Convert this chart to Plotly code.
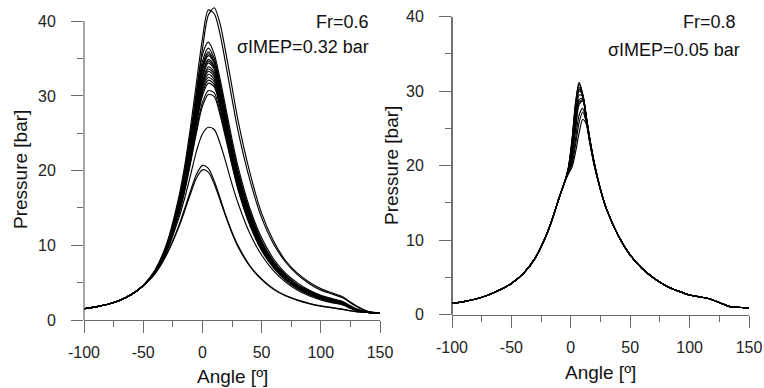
import plotly.graph_objects as go

# ---------------- data: left panel (Fr=0.6) ----------------
ANG_L = [-100, -90, -80, -70, -60, -50, -40, -30, -20, -15, -10, -5, 0, 5, 10, 15, 20, 25, 30,
         40, 50, 60, 70, 80, 90, 100, 110, 118, 125, 130, 140, 150]

P_L_upper_a = [1.5, 1.75, 2.1, 2.6, 3.4, 4.6, 6.6, 10.0, 15.8, 19.8, 24.8, 30.5, 36.2, 40.8, 41.8, 39.6, 35.6, 31.2, 26.8,
               19.8, 14.3, 10.6, 8.0, 6.3, 5.1, 4.2, 3.6, 3.15, 2.4, 1.9, 1.15, 0.95]
P_L_upper_b = [1.5, 1.75, 2.1, 2.6, 3.4, 4.6, 6.7, 10.3, 16.4, 20.6, 25.9, 31.8, 37.6, 41.5, 41.0, 38.2, 34.0, 29.6, 25.4,
               18.8, 13.7, 10.2, 7.8, 6.1, 4.9, 4.0, 3.45, 3.0, 2.3, 1.8, 1.1, 0.95]
P_L_373 = [1.5, 1.75, 2.1, 2.6, 3.4, 4.6, 6.6, 10.1, 15.9, 20.0, 25.0, 30.5, 35.5, 37.2, 35.6, 32.2, 28.2, 24.2, 20.6,
           15.0, 11.0, 8.2, 6.3, 5.0, 4.0, 3.3, 2.85, 2.5, 1.9, 1.5, 1.05, 0.95]
P_L_c1 = [1.5, 1.75, 2.1, 2.6, 3.4, 4.6, 6.6, 10.0, 15.6, 19.6, 24.5, 29.8, 34.6, 36.4, 35.0, 31.6, 27.6, 23.6, 20.0,
          14.6, 10.6, 7.9, 6.1, 4.8, 3.9, 3.2, 2.75, 2.45, 1.85, 1.45, 1.05, 0.95]
P_L_c2 = [1.5, 1.75, 2.1, 2.6, 3.4, 4.6, 6.6, 10.0, 15.5, 19.4, 24.2, 29.4, 34.1, 35.9, 34.6, 31.2, 27.2, 23.2, 19.7,
          14.3, 10.4, 7.8, 6.0, 4.7, 3.8, 3.15, 2.7, 2.4, 1.8, 1.4, 1.05, 0.95]
P_L_c12 = [1.5, 1.75, 2.1, 2.6, 3.4, 4.6, 6.55, 9.95, 15.4, 19.25, 24.0, 29.1, 33.8, 35.65, 34.5, 31.1, 27.1, 23.1, 19.6,
           14.2, 10.35, 7.75, 5.95, 4.65, 3.78, 3.12, 2.68, 2.38, 1.8, 1.4, 1.05, 0.95]
P_L_c3 = [1.5, 1.75, 2.1, 2.6, 3.4, 4.6, 6.5, 9.9, 15.3, 19.1, 23.8, 28.8, 33.4, 35.4, 34.4, 31.0, 27.0, 23.0, 19.5,
          14.1, 10.3, 7.7, 5.9, 4.6, 3.75, 3.1, 2.65, 2.35, 1.8, 1.4, 1.05, 0.95]
P_L_c4 = [1.5, 1.75, 2.1, 2.6, 3.4, 4.6, 6.5, 9.8, 15.2, 18.9, 23.5, 28.4, 32.9, 34.9, 34.0, 30.7, 26.7, 22.7, 19.2,
          13.9, 10.1, 7.6, 5.8, 4.55, 3.7, 3.05, 2.6, 2.3, 1.75, 1.38, 1.03, 0.95]
P_L_c13 = [1.5, 1.75, 2.1, 2.6, 3.4, 4.6, 6.5, 9.8, 15.1, 18.8, 23.35, 28.2, 32.65, 34.65, 33.8, 30.5, 26.55, 22.55, 19.1,
           13.8, 10.05, 7.55, 5.78, 4.52, 3.68, 3.02, 2.59, 2.29, 1.75, 1.37, 1.03, 0.95]
P_L_c5 = [1.5, 1.75, 2.1, 2.6, 3.4, 4.6, 6.5, 9.8, 15.0, 18.7, 23.2, 28.0, 32.4, 34.4, 33.6, 30.3, 26.4, 22.4, 19.0,
          13.7, 10.0, 7.5, 5.75, 4.5, 3.65, 3.0, 2.58, 2.28, 1.75, 1.37, 1.03, 0.95]
P_L_c6 = [1.5, 1.75, 2.1, 2.6, 3.4, 4.6, 6.5, 9.7, 14.9, 18.5, 22.9, 27.6, 31.9, 33.9, 33.2, 30.0, 26.1, 22.2, 18.8,
          13.5, 9.9, 7.4, 5.7, 4.45, 3.6, 2.98, 2.55, 2.25, 1.72, 1.35, 1.03, 0.95]
P_L_c14 = [1.5, 1.75, 2.1, 2.6, 3.4, 4.6, 6.5, 9.7, 14.85, 18.4, 22.75, 27.4, 31.65, 33.6, 32.9, 29.75, 25.9, 22.05, 18.65,
           13.4, 9.85, 7.35, 5.65, 4.42, 3.58, 2.96, 2.53, 2.23, 1.71, 1.34, 1.02, 0.95]
P_L_c7 = [1.5, 1.75, 2.1, 2.6, 3.4, 4.6, 6.5, 9.7, 14.8, 18.3, 22.6, 27.2, 31.4, 33.3, 32.6, 29.5, 25.7, 21.9, 18.5,
          13.3, 9.8, 7.3, 5.6, 4.4, 3.55, 2.95, 2.52, 2.22, 1.7, 1.34, 1.02, 0.95]
P_L_c15 = [1.5, 1.75, 2.1, 2.6, 3.4, 4.6, 6.45, 9.65, 14.7, 18.15, 22.4, 26.95, 31.05, 32.9, 32.25, 29.2, 25.45, 21.7, 18.35,
           13.2, 9.7, 7.25, 5.55, 4.38, 3.52, 2.92, 2.51, 2.21, 1.69, 1.33, 1.02, 0.95]
P_L_c8 = [1.5, 1.75, 2.1, 2.6, 3.4, 4.6, 6.4, 9.6, 14.6, 18.0, 22.2, 26.7, 30.7, 32.5, 31.9, 28.9, 25.2, 21.5, 18.2,
          13.1, 9.6, 7.2, 5.5, 4.35, 3.5, 2.9, 2.5, 2.2, 1.68, 1.33, 1.02, 0.95]
P_L_c16 = [1.5, 1.75, 2.1, 2.6, 3.4, 4.6, 6.4, 9.55, 14.5, 17.85, 22.0, 26.45, 30.35, 32.1, 31.55, 28.65, 25.0, 21.35, 18.05,
           13.0, 9.55, 7.15, 5.48, 4.32, 3.48, 2.88, 2.48, 2.19, 1.67, 1.32, 1.02, 0.95]
P_L_c9 = [1.5, 1.75, 2.1, 2.6, 3.4, 4.6, 6.4, 9.5, 14.4, 17.7, 21.8, 26.2, 30.0, 31.7, 31.2, 28.4, 24.8, 21.2, 17.9,
          12.9, 9.5, 7.1, 5.45, 4.3, 3.47, 2.87, 2.47, 2.18, 1.66, 1.32, 1.02, 0.95]
P_L_c10 = [1.5, 1.75, 2.1, 2.6, 3.4, 4.6, 6.4, 9.4, 14.2, 17.4, 21.3, 25.5, 29.1, 30.7, 30.4, 27.8, 24.4, 20.9, 17.7,
           12.8, 9.4, 7.05, 5.4, 4.25, 3.45, 2.85, 2.45, 2.15, 1.65, 1.3, 1.02, 0.95]
P_L_c11 = [1.5, 1.75, 2.1, 2.6, 3.4, 4.6, 6.4, 9.4, 14.1, 17.2, 21.0, 25.1, 28.6, 30.2, 29.9, 27.4, 24.1, 20.7, 17.5,
           12.7, 9.3, 7.0, 5.35, 4.2, 3.42, 2.82, 2.43, 2.13, 1.63, 1.3, 1.02, 0.95]
P_L_258 = [1.5, 1.75, 2.1, 2.6, 3.4, 4.6, 6.3, 9.2, 13.6, 16.3, 19.4, 22.6, 24.9, 25.8, 25.5, 23.6, 21.0, 18.2, 15.7,
           11.6, 8.7, 6.6, 5.1, 4.0, 3.25, 2.7, 2.3, 2.05, 1.55, 1.25, 1.0, 0.95]
P_L_208 = [1.5, 1.75, 2.1, 2.6, 3.4, 4.6, 6.2, 8.9, 12.6, 14.9, 17.3, 19.5, 20.7, 20.3, 18.6, 16.3, 13.9, 11.8, 10.0,
           7.3, 5.5, 4.2, 3.3, 2.7, 2.25, 1.9, 1.65, 1.45, 1.25, 1.12, 1.0, 0.95]
P_L_202 = [1.5, 1.75, 2.1, 2.6, 3.4, 4.6, 6.2, 8.8, 12.4, 14.6, 16.9, 19.0, 20.1, 19.8, 18.2, 16.0, 13.7, 11.6, 9.8,
           7.2, 5.4, 4.1, 3.25, 2.65, 2.2, 1.85, 1.6, 1.42, 1.22, 1.1, 1.0, 0.95]

CYCLES_L = [P_L_upper_a, P_L_upper_b, P_L_373, P_L_c1, P_L_c2, P_L_c12, P_L_c3, P_L_c4, P_L_c13,
            P_L_c5, P_L_c6, P_L_c14, P_L_c7, P_L_c15, P_L_c8, P_L_c16, P_L_c9, P_L_c10, P_L_c11,
            P_L_258, P_L_208, P_L_202]

# ---------------- data: right panel (Fr=0.8) ----------------
ANG_R = [-100, -90, -80, -70, -60, -50, -40, -30, -20, -15, -10, -5, -2, 1, 4, 7, 10, 13, 16, 20,
         25, 30, 40, 50, 60, 70, 80, 90, 100, 110, 115, 120, 130, 135, 140, 150]

P_R_head = [1.5, 1.75, 2.1, 2.6, 3.3, 4.2, 5.5, 7.6, 10.9, 13.1, 15.6, 17.9]
P_R_tail = [16.8, 14.2, 10.6, 8.0, 6.2, 4.9, 3.9, 3.2, 2.65, 2.35, 2.2, 1.95, 1.3, 1.05, 1.0, 0.9]
P_R_mid_1 = [19.8, 23.5, 28.5, 31.2, 29.6, 26.6, 23.6, 20.2]
P_R_mid_11 = [19.75, 23.35, 28.25, 31.05, 29.55, 26.6, 23.6, 20.2]
P_R_mid_2 = [19.7, 23.2, 28.0, 30.9, 29.5, 26.6, 23.6, 20.2]
P_R_mid_3 = [19.6, 22.8, 27.4, 30.5, 29.4, 26.5, 23.5, 20.1]
P_R_mid_12 = [19.55, 22.6, 27.1, 30.25, 29.45, 26.55, 23.5, 20.1]
P_R_mid_4 = [19.5, 22.4, 26.8, 30.0, 29.5, 26.6, 23.5, 20.1]
P_R_mid_5 = [19.4, 22.0, 26.2, 29.5, 29.3, 26.5, 23.5, 20.1]
P_R_mid_6 = [19.3, 21.6, 25.5, 28.9, 29.0, 26.4, 23.4, 20.0]
P_R_mid_13 = [19.25, 21.4, 25.2, 28.6, 28.85, 26.35, 23.4, 20.0]
P_R_mid_7 = [19.2, 21.2, 24.8, 28.2, 28.7, 26.3, 23.4, 20.0]
P_R_mid_8 = [19.1, 20.6, 23.6, 26.8, 27.7, 26.0, 23.2, 19.9]
P_R_mid_9 = [19.0, 20.2, 22.8, 25.8, 27.2, 25.8, 23.1, 19.9]
P_R_mid_10 = [18.9, 19.8, 21.8, 24.4, 26.2, 25.6, 23.0, 19.8]

MIDS_R = [P_R_mid_1, P_R_mid_11, P_R_mid_2, P_R_mid_3, P_R_mid_12, P_R_mid_4, P_R_mid_5,
          P_R_mid_6, P_R_mid_13, P_R_mid_7, P_R_mid_8, P_R_mid_9, P_R_mid_10]

X_TICKS = [-100, -50, 0, 50, 100, 150]
X_TICK_LABELS = ["-100", "-50", "0", "50", "100", "150"]
Y_TICKS = [0, 10, 20, 30, 40]
Y_TICK_LABELS = ["0", "10", "20", "30", "40"]

# ---------------- layout constants ----------------
W, H = 764, 388
L_DOM_X = [84 / W, 380 / W]
L_DOM_Y = [68 / H, 1.0]
L_YMAX = 42.84
R_DOM_X = [452 / W, 749 / W]
R_DOM_Y = [73.3 / H, 1.0]
R_YMAX = 42.24

FONT = "Liberation Sans, Arial, sans-serif"
AXC = "#6a6a6a"

fig = go.Figure()
for p in CYCLES_L:
    fig.add_trace(go.Scatter(x=ANG_L, y=p, mode="lines", xaxis="x", yaxis="y",
                             line=dict(color="black", width=1.15, shape="spline", smoothing=0.8),
                             showlegend=False, hoverinfo="skip"))
for mid in MIDS_R:
    fig.add_trace(go.Scatter(x=ANG_R, y=P_R_head + mid + P_R_tail, mode="lines", xaxis="x2", yaxis="y2",
                             line=dict(color="black", width=1.15, shape="spline", smoothing=0.8),
                             showlegend=False, hoverinfo="skip"))


def xax(dom, anchor):
    return dict(domain=dom, anchor=anchor, range=[-100, 150], tickvals=X_TICKS, ticktext=X_TICK_LABELS,
                ticks="outside", ticklen=12, tickwidth=1, tickcolor=AXC,
                minor=dict(dtick=25, tick0=0, ticks="outside", ticklen=6, tickcolor=AXC, tickwidth=1),
                showline=True, linecolor=AXC, linewidth=1, showgrid=False, zeroline=False,
                automargin=False,
                tickfont=dict(family=FONT, size=16, color="#222"), ticklabelstandoff=6)


def yax(dom, anchor, ymax):
    return dict(domain=dom, anchor=anchor, range=[0, ymax], tickvals=Y_TICKS, ticktext=Y_TICK_LABELS,
                ticks="outside", ticklen=12, tickwidth=1, tickcolor=AXC,
                minor=dict(dtick=5, tick0=0, ticks="outside", ticklen=6, tickcolor=AXC, tickwidth=1),
                showline=False, showgrid=False, zeroline=False,
                automargin=False,
                tickfont=dict(family=FONT, size=16, color="#222"), ticklabelstandoff=12)


def ypaper(dom, ymax, v):
    return dom[0] + (dom[1] - dom[0]) * v / ymax


shapes = [
    dict(type="line", xref="paper", yref="paper", x0=L_DOM_X[0], x1=L_DOM_X[0],
         y0=L_DOM_Y[0], y1=ypaper(L_DOM_Y, L_YMAX, 40), line=dict(color=AXC, width=1.2)),
    dict(type="line", xref="paper", yref="paper", x0=R_DOM_X[0], x1=R_DOM_X[0],
         y0=R_DOM_Y[0], y1=ypaper(R_DOM_Y, R_YMAX, 40), line=dict(color="#111", width=1.2)),
]

ann_font = dict(family=FONT, size=18, color="#111")
title_font = dict(family=FONT, size=19, color="#111")
annotations = [
    dict(text="Fr=0.6", x=371 / W, y=1 - 22 / H, xref="paper", yref="paper",
         xanchor="right", yanchor="middle", showarrow=False, font=ann_font),
    dict(text="σIMEP=0.32 bar", x=371 / W, y=1 - 47 / H, xref="paper", yref="paper",
         xanchor="right", yanchor="middle", showarrow=False, font=ann_font),
    dict(text="Fr=0.8", x=738 / W, y=1 - 22 / H, xref="paper", yref="paper",
         xanchor="right", yanchor="middle", showarrow=False, font=ann_font),
    dict(text="σIMEP=0.05 bar", x=742 / W, y=1 - 50 / H, xref="paper", yref="paper",
         xanchor="right", yanchor="middle", showarrow=False, font=ann_font),
    dict(text="Angle [º]", x=232 / W, y=1 - 376 / H, xref="paper", yref="paper",
         xanchor="center", yanchor="middle", showarrow=False, font=title_font),
    dict(text="Angle [º]", x=600 / W, y=1 - 372 / H, xref="paper", yref="paper",
         xanchor="center", yanchor="middle", showarrow=False, font=title_font),
    dict(text="Pressure [bar]", x=20 / W, y=1 - 170 / H, xref="paper", yref="paper", textangle=-90,
         xanchor="center", yanchor="middle", showarrow=False, font=title_font),
    dict(text="Pressure [bar]", x=391 / W, y=1 - 166 / H, xref="paper", yref="paper", textangle=-90,
         xanchor="center", yanchor="middle", showarrow=False, font=title_font),
]

fig.update_layout(
    width=W, height=H, margin=dict(l=0, r=0, t=0, b=0, autoexpand=False),
    paper_bgcolor="white", plot_bgcolor="white",
    xaxis=xax(L_DOM_X, "y"), yaxis=yax(L_DOM_Y, "x", L_YMAX),
    xaxis2=xax(R_DOM_X, "y2"), yaxis2=yax(R_DOM_Y, "x2", R_YMAX),
    shapes=shapes, annotations=annotations, showlegend=False,
)

fig.write_html("out.html")
